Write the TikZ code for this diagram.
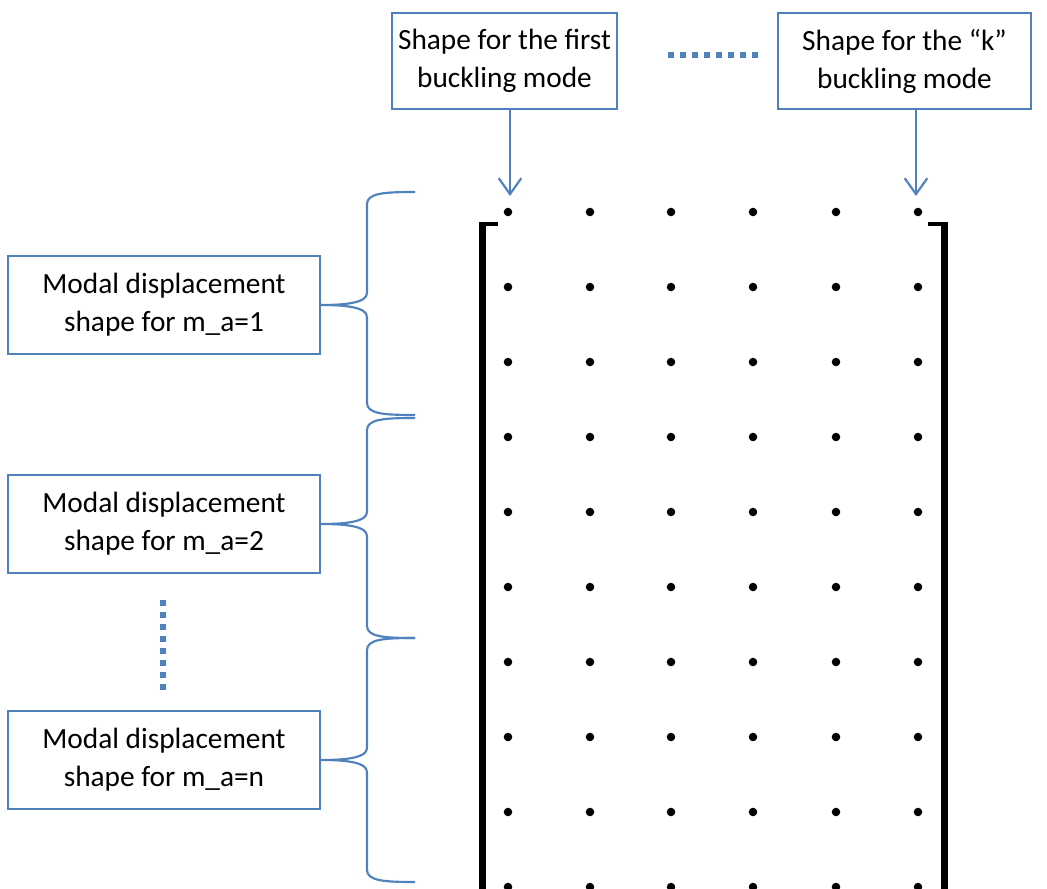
\documentclass[tikz,border=0pt]{standalone}
\usepackage{fontspec}
\setmainfont{Carlito}
\usetikzlibrary{arrows.meta}
\definecolor{obl}{HTML}{4F81BD}
\newcommand\bracepath[4]{(415,#1) .. controls (385,#1) and (367,#1+1) .. (367,#1+12) -- (367,#2-12) .. controls (367,#2-2) and (345,#2) .. (#4.east) .. controls (345,#2) and (367,#2+2) .. (367,#2+12) -- (367,#3-12) .. controls (367,#3-1) and (385,#3) .. (415,#3)}
\begin{document}
\begin{tikzpicture}[x=0.75pt,y=-0.75pt,
  box/.style={draw=obl, line width=1.5pt, align=center, inner sep=0pt, text=black,
    font=\fontsize{22}{28.5}\selectfont},
  topbox/.style={box, minimum height=72pt},
  leftbox/.style={box, minimum width=234pt, minimum height=73.5pt},
  arr/.style={draw=obl, line width=1.6pt, -{Straight Barb[length=12pt, width=17pt, line width=1.6pt]}},
  dotline/.style={draw=obl, line width=4.2pt, dash pattern=on 4.5pt off 4.5pt},
  bracestyle/.style={draw=obl, line width=1.6pt},
  dotmark/.style={fill=black}]
\useasboundingbox (0,0) rectangle (1047,889);

% top boxes
\node[topbox, minimum width=168.75pt] (A) at (504.5,61) {Shape for the first\\buckling mode};
\node[topbox, minimum width=189.75pt] (K) at (904.5,61) {Shape for the “k”\\buckling mode};

% dotted line between top boxes
\coordinate (d1) at (668,55);
\coordinate (d2) at (758,55);
\draw[dotline] (d1) -- (d2);

% arrows
\coordinate (tA) at (510,196);
\coordinate (tK) at (916,196);
\draw[arr] (tA |- A.south) -- (tA);
\draw[arr] (tK |- K.south) -- (tK);

% left boxes
\node[leftbox] (m1) at (164,305) {Modal displacement\\shape for m\_a=1};
\node[leftbox] (m2) at (164,524) {Modal displacement\\shape for m\_a=2};
\node[leftbox] (m3) at (164,760) {Modal displacement\\shape for m\_a=n};

% vertical dotted line
\coordinate (v1) at (163,600);
\coordinate (v2) at (163,690);
\draw[dotline] (v1) -- (v2);

% braces
\draw[bracestyle] \bracepath{192}{305}{415}{m1};
\draw[bracestyle] \bracepath{418}{524}{638}{m2};
\draw[bracestyle] \bracepath{638}{760}{882}{m3};

% brackets
\fill (479,222) rectangle (486,900);
\fill (479,222) rectangle (498,225.5);
\fill (941,222) rectangle (948,900);
\fill (928,222) rectangle (948,225.5);

% dots
\foreach \x in {508,590,671,753,836,918}
  \foreach \r in {0,...,9}
    \fill[dotmark] (\x,212+75*\r) circle (3.2pt);
\end{tikzpicture}
\end{document}
